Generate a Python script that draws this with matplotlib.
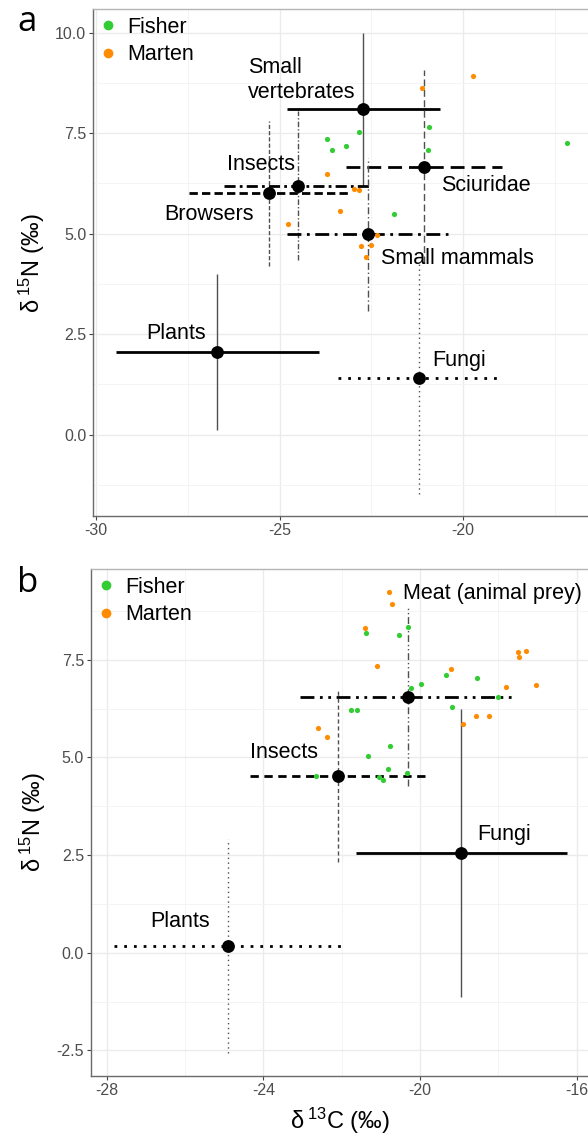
import matplotlib
matplotlib.use('Agg')
import matplotlib.pyplot as plt
from matplotlib.lines import Line2D
from matplotlib.ticker import MultipleLocator

plt.rcParams['font.family'] = ['Liberation Sans', 'DejaVu Sans']
plt.rcParams['mathtext.fontset'] = 'custom'
plt.rcParams['mathtext.rm'] = 'Liberation Sans'
plt.rcParams['axes.unicode_minus'] = False

W, H = 588, 1139

# ---- panel a : consumers ----
a_fisher_x = [-22.83, -23.71, -23.58, -23.20, -20.92, -20.97, -17.16, -21.87]
a_fisher_y = [7.54, 7.36, 7.07, 7.17, 7.65, 7.08, 7.26, 5.49]
a_marten_x = [-19.74, -21.11, -23.70, -22.97, -22.84, -23.36, -24.78, -22.34, -22.77, -22.51, -22.64]
a_marten_y = [8.92, 8.62, 6.49, 6.11, 6.09, 5.57, 5.24, 4.97, 4.69, 4.71, 4.42]

# ---- panel a : sources (mean, sd) ----
a_src = ['Small\nvertebrates', 'Sciuridae', 'Insects', 'Browsers', 'Small mammals', 'Plants', 'Fungi']
a_src_x = [-22.72, -21.06, -24.49, -25.28, -22.60, -26.69, -21.19]
a_src_y = [8.10, 6.67, 6.19, 6.00, 4.99, 2.06, 1.40]
a_src_xsd = [2.08, 2.13, 2.02, 2.18, 2.20, 2.76, 2.22]
a_src_ysd = [1.90, 2.40, 1.85, 1.80, 1.90, 1.95, 2.88]
a_lab_x = [-25.86, -19.39, -25.51, -26.92, -20.15, -27.82, -20.10]
a_lab_y = [8.82, 6.19, 6.71, 5.47, 4.39, 2.52, 1.84]

# ---- panel b : consumers ----
b_fisher_x = [-21.38, -20.54, -20.31, -20.24, -19.97, -19.33, -18.55, -18.01, -19.17,
              -21.76, -21.60, -20.76, -21.33, -20.82, -21.04, -20.94, -20.32, -22.66]
b_fisher_y = [8.18, 8.15, 8.35, 6.79, 6.87, 7.11, 7.03, 6.55, 6.30,
              6.22, 6.21, 5.30, 5.03, 4.71, 4.50, 4.43, 4.59, 4.53]
b_marten_x = [-20.80, -20.71, -21.40, -21.10, -19.22, -17.51, -17.46, -17.29, -17.81,
              -17.04, -18.56, -18.25, -18.91, -22.61, -22.37]
b_marten_y = [9.24, 8.93, 8.31, 7.35, 7.26, 7.71, 7.57, 7.74, 6.81,
              6.85, 6.05, 6.05, 5.87, 5.75, 5.53]

# ---- panel b : sources ----
b_src = ['Meat (animal prey)', 'Insects', 'Fungi', 'Plants']
b_src_x = [-20.31, -22.09, -18.94, -24.91]
b_src_y = [6.55, 4.53, 2.55, 0.17]
b_src_xsd = [2.76, 2.25, 2.69, 2.90]
b_src_ysd = [2.28, 2.20, 3.69, 2.73]
b_lab_x = [-20.43, -24.34, -17.84, -26.12]
b_lab_y = [9.20, 5.12, 3.02, 0.79]

# line styles per source
styles = {
    'Small\nvertebrates': '-',
    'Plants': '-',
    'Sciuridae': (0, (5, 2.5)),
    'Insects': (0, (4, 1.5, 1, 1.5)),
    'Browsers': (0, (3, 1.5)),
    'Small mammals': (0, (5, 2, 1, 2)),
    'Fungi': (0, (1, 2.5)),
    'Meat (animal prey)': (0, (5, 2, 1, 2, 1, 2)),
}
b_styles = {'Insects': (0, (3, 2)), 'Fungi': '-', 'Plants': (0, (1, 2.5))}
a_ha = ['left', 'center', 'center', 'center', 'center', 'center', 'center']
b_ha = ['left', 'left', 'center', 'center']

GREEN = '#32CD32'
ORANGE = '#FF8C00'

fig = plt.figure(figsize=(W / 100, H / 100), dpi=100)


def rect(l, t, r, b):
    return [l / W, 1 - b / H, (r - l) / W, (b - t) / H]


def style_axes(ax, xlim, ylim, xmaj, ymaj):
    ax.set_xlim(*xlim)
    ax.set_ylim(*ylim)
    ax.xaxis.set_major_locator(MultipleLocator(xmaj))
    ax.xaxis.set_minor_locator(MultipleLocator(xmaj / 2))
    ax.yaxis.set_major_locator(MultipleLocator(ymaj))
    ax.yaxis.set_minor_locator(MultipleLocator(ymaj / 2))
    ax.grid(which='major', color='#ebebeb', lw=1.0, zorder=0)
    ax.grid(which='minor', color='#f3f3f3', lw=0.6, zorder=0)
    ax.set_axisbelow(True)
    ax.spines['right'].set_visible(False)
    ax.spines['top'].set_color('#b5b5b5')
    ax.spines['left'].set_color('#6a6a6a')
    ax.spines['bottom'].set_color('#6a6a6a')
    for s in ax.spines.values():
        s.set_linewidth(1.0)
    ax.tick_params(which='major', length=3, color='#444444', labelsize=11.5,
                   labelcolor='#4d4d4d', pad=2)
    ax.tick_params(which='minor', length=0)
    ax.set_ylabel(r'$\mathregular{\delta\,^{15}N}$ (‰)', fontsize=17, labelpad=6)


def draw(ax, src, sx, sy, sxsd, sysd, lx, ly, has, stl, fx, fy, mx, my):
    for i, name in enumerate(src):
        ls = stl.get(name, styles.get(name, '-'))
        e = ax.errorbar(sx[i], sy[i], xerr=sxsd[i], fmt='none', ecolor='black',
                        elinewidth=2.0, zorder=3)
        e.lines[2][0].set_linestyle(ls)
        e = ax.errorbar(sx[i], sy[i], yerr=sysd[i], fmt='none', ecolor='#505050',
                        elinewidth=1.0, zorder=3)
        e.lines[2][0].set_linestyle(ls)
        ax.text(lx[i], ly[i], name, fontsize=15.5, ha=has[i], va='center',
                multialignment='left', color='black', zorder=6, linespacing=1.25)
    ax.scatter(fx, fy, s=14, color=GREEN, lw=0, zorder=4)
    ax.scatter(mx, my, s=14, color=ORANGE, lw=0, zorder=4)
    ax.scatter(sx, sy, s=85, color='black', lw=0, zorder=5)
    h = [Line2D([], [], marker='o', ls='', color=GREEN, markersize=6),
         Line2D([], [], marker='o', ls='', color=ORANGE, markersize=6)]
    ax.legend(h, ['Fisher', 'Marten'], loc='upper left', bbox_to_anchor=(0.012, 0.985),
              frameon=False, fontsize=15.5, handlelength=0.8, handletextpad=0.5,
              labelspacing=0.3, borderpad=0, borderaxespad=0)


ax1 = fig.add_axes(rect(93.3, 9.3, 588, 516))
style_axes(ax1, (-30.07, -16.6), (-2.02, 10.58), 5, 2.5)
draw(ax1, a_src, a_src_x, a_src_y, a_src_xsd, a_src_ysd, a_lab_x, a_lab_y, a_ha, {},
     a_fisher_x, a_fisher_y, a_marten_x, a_marten_y)
ax1.set_yticks([0, 2.5, 5, 7.5, 10])
ax1.set_yticklabels(['0.0', '2.5', '5.0', '7.5', '10.0'])

ax2 = fig.add_axes(rect(91, 569.3, 588, 1075.7))
style_axes(ax2, (-28.4, -15.71), (-3.15, 9.82), 4, 2.5)
draw(ax2, b_src, b_src_x, b_src_y, b_src_xsd, b_src_ysd, b_lab_x, b_lab_y, b_ha, b_styles,
     b_fisher_x, b_fisher_y, b_marten_x, b_marten_y)
ax2.set_yticks([-2.5, 0, 2.5, 5, 7.5])
ax2.set_yticklabels(['-2.5', '0.0', '2.5', '5.0', '7.5'])
ax2.set_xlabel(r'$\mathregular{\delta\,^{13}C}$ (‰)', fontsize=17, labelpad=6)

fig.text(17 / W, 1 - 5 / H, 'a', fontsize=25, family='Open Sans', va='top', ha='left')
fig.text(17 / W, 1 - 566 / H, 'b', fontsize=25, family='Open Sans', va='top', ha='left')

fig.savefig('out.png', dpi=100)
